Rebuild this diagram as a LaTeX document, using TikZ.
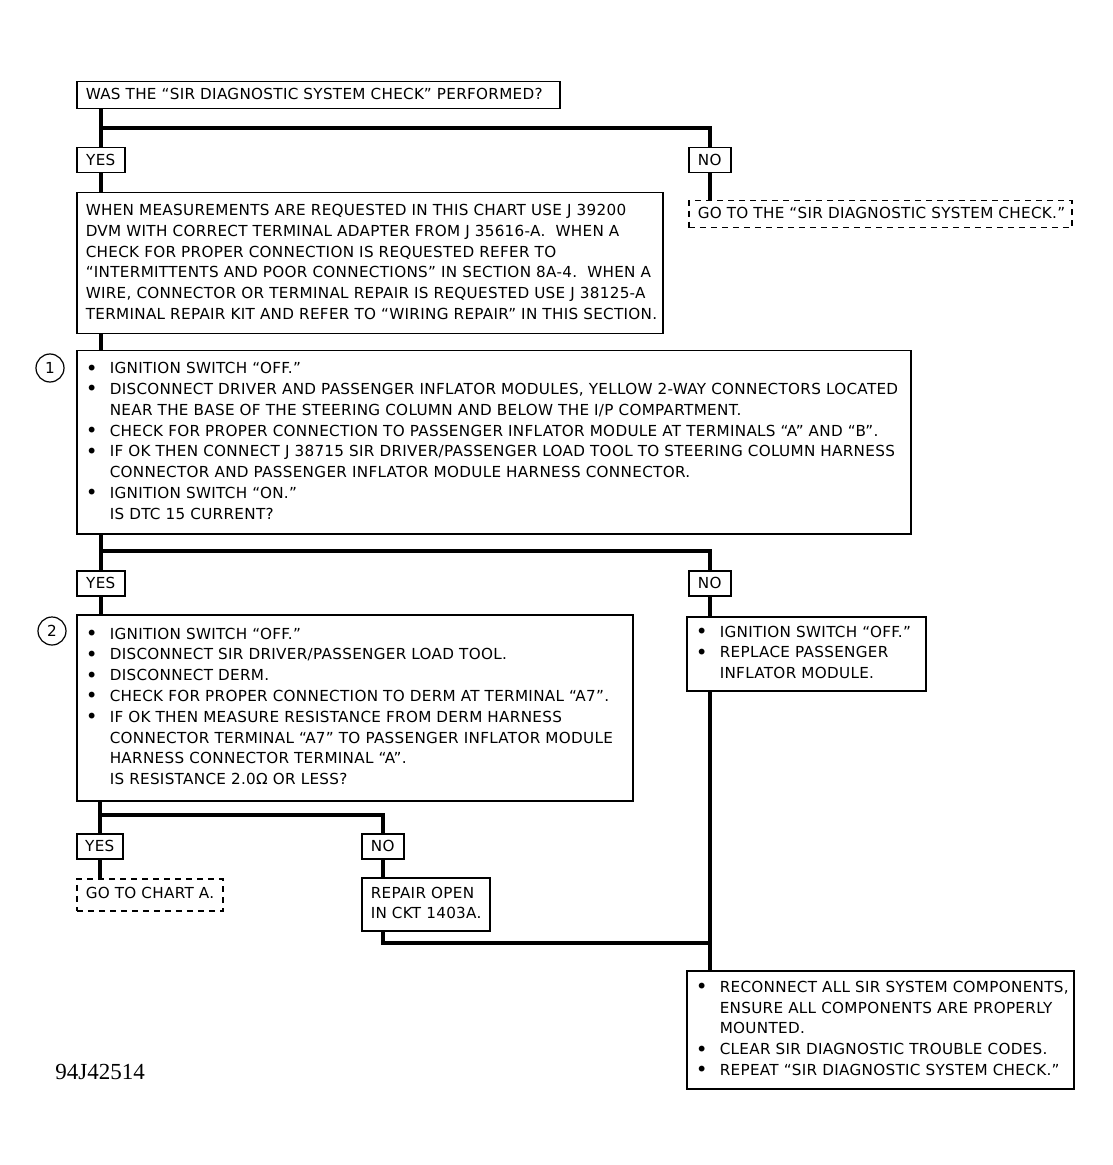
\documentclass[tikz,border=0pt]{standalone}
\usepackage{fontspec}
\setmainfont[LetterSpace=2]{DejaVu Sans}
\newfontfamily\codefont{Liberation Serif}
\usetikzlibrary{calc}
\newcommand{\bul}{\makebox[12pt][l]{\raisebox{-0.7pt}{\fontsize{10}{0}\selectfont\textbullet}}}
\newcommand{\ind}{\hspace*{12pt}}
\newcommand{\rows}[1]{\begin{tabular}{@{}l@{}}#1\end{tabular}}
\tikzset{
	box/.style={draw, line width=0.75pt, anchor=north west, inner xsep=4.5pt, inner ysep=0pt, align=left, font=\fontsize{7.6}{10.4}\selectfont},
	dbox/.style={box, dash pattern=on 3pt off 2.5pt},
	ans/.style={box, inner xsep=0pt, align=center, minimum height=12.5pt},
	wire/.style={line width=2pt},
	num/.style={draw, circle, line width=0.6pt, minimum size=14pt, inner sep=0pt, font=\fontsize{7.6}{8}\selectfont}
}
\begin{document}
\begin{tikzpicture}[x=0.5pt,y=-0.5pt]
			\useasboundingbox (0,0) rectangle (1112,1165);
			\node[box, text width=232.5pt, minimum height=13.5pt] (q1) at (76,81) {\rows{WAS THE “SIR DIAGNOSTIC SYSTEM CHECK” PERFORMED?}};
			\node[ans, minimum width=24pt] (yes1) at (76,147) {YES};
			\node[ans, minimum width=21pt] (no1) at (688,147) {NO};
			\node[dbox, text width=182.5pt, minimum height=13.5pt] (go1) at (688,200) {\rows{GO TO THE “SIR DIAGNOSTIC SYSTEM CHECK.”}};
			\node[box, text width=284pt, minimum height=70.5pt] (info) at (76,192) {\rows{WHEN MEASUREMENTS ARE REQUESTED IN THIS CHART USE J 39200\\
				DVM WITH CORRECT TERMINAL ADAPTER FROM J 35616-A.\ \ WHEN A\\
				CHECK FOR PROPER CONNECTION IS REQUESTED REFER TO\\
				“INTERMITTENTS AND POOR CONNECTIONS” IN SECTION 8A-4.\ \ WHEN A\\
				WIRE, CONNECTOR OR TERMINAL REPAIR IS REQUESTED USE J 38125-A\\
				TERMINAL REPAIR KIT AND REFER TO “WIRING REPAIR” IN THIS SECTION.}};
			\node[box, text width=408pt, minimum height=91.5pt] (step1) at (76,350) {\rows{\bul IGNITION SWITCH “OFF.”\\
				\bul DISCONNECT DRIVER AND PASSENGER INFLATOR MODULES, YELLOW 2-WAY CONNECTORS LOCATED\\
				\ind NEAR THE BASE OF THE STEERING COLUMN AND BELOW THE I/P COMPARTMENT.\\
				\bul CHECK FOR PROPER CONNECTION TO PASSENGER INFLATOR MODULE AT TERMINALS “A” AND “B”.\\
				\bul IF OK THEN CONNECT J 38715 SIR DRIVER/PASSENGER LOAD TOOL TO STEERING COLUMN HARNESS\\
				\ind CONNECTOR AND PASSENGER INFLATOR MODULE HARNESS CONNECTOR.\\
				\bul IGNITION SWITCH “ON.”\\
				\ind IS DTC 15 CURRENT?}};
			\node[num] (c1) at (50,368) {1};
			\node[ans, minimum width=24pt] (yes2) at (76,570) {YES};
			\node[ans, minimum width=21pt] (no2) at (688,570) {NO};
			\node[box, text width=269pt, minimum height=93pt] (step2) at (76,614) {\rows{\bul IGNITION SWITCH “OFF.”\\
				\bul DISCONNECT SIR DRIVER/PASSENGER LOAD TOOL.\\
				\bul DISCONNECT DERM.\\
				\bul CHECK FOR PROPER CONNECTION TO DERM AT TERMINAL “A7”.\\
				\bul IF OK THEN MEASURE RESISTANCE FROM DERM HARNESS\\
				\ind CONNECTOR TERMINAL “A7” TO PASSENGER INFLATOR MODULE\\
				\ind HARNESS CONNECTOR TERMINAL “A”.\\
				\ind IS RESISTANCE 2.0Ω OR LESS?}};
			\node[num] (c2) at (52,631) {2};
			\node[box, text width=110.5pt, minimum height=37pt] (repl) at (686,616) {\rows{\bul IGNITION SWITCH “OFF.”\\
				\bul REPLACE PASSENGER\\
				\ind INFLATOR MODULE.}};
			\node[ans, minimum width=23pt] (yes3) at (76,833) {YES};
			\node[ans, minimum width=21pt] (no3) at (361,833) {NO};
			\node[dbox, text width=64pt, minimum height=16pt] (chartA) at (76,878) {\rows{GO TO CHART A.}};
			\node[box, text width=55pt, minimum height=26.5pt] (repair) at (361,877) {\rows{REPAIR OPEN\\IN CKT 1403A.}};
			\node[box, text width=184.5pt, minimum height=59pt] (final) at (686,970) {\rows{\bul RECONNECT ALL SIR SYSTEM COMPONENTS,\\
				\ind ENSURE ALL COMPONENTS ARE PROPERLY\\
				\ind MOUNTED.\\
				\bul CLEAR SIR DIAGNOSTIC TROUBLE CODES.\\
				\bul REPEAT “SIR DIAGNOSTIC SYSTEM CHECK.”}};
			\node[anchor=west, inner sep=0pt, font=\codefont\fontsize{11.5}{12}\selectfont] (fig) at (55,1072) {94J42514};
			\coordinate (j1) at (100,128);
			\coordinate (j2) at (100,551);
			\coordinate (j3) at (100,815);
			\coordinate (j4) at (709,943);
			\draw[wire] (q1.south -| yes1.north) -- (yes1.north);
			\draw[wire] (j1) -| (no1.north);
			\draw[wire] (yes1.south) -- (info.north -| yes1.south);
			\draw[wire] (no1.south) -- (go1.north -| no1.south);
			\draw[wire] (info.south -| yes1.south) -- (step1.north -| yes1.south);
			\draw[wire] (step1.south -| yes2.north) -- (yes2.north);
			\draw[wire] (j2) -| (no2.north);
			\draw[wire] (yes2.south) -- (step2.north -| yes2.south);
			\draw[wire] (no2.south) -- (repl.north -| no2.south);
			\draw[wire] (step2.south -| yes3.north) -- (yes3.north);
			\draw[wire] (j3) -| (no3.north);
			\draw[wire] (yes3.south) -- (chartA.north -| yes3.south);
			\draw[wire] (no3.south) -- (repair.north -| no3.south);
			\draw[wire] (repair.south -| no3.south) |- (j4);
			\draw[wire] (repl.south -| no2.south) -- (final.north -| no2.south);
\end{tikzpicture}
\end{document}
